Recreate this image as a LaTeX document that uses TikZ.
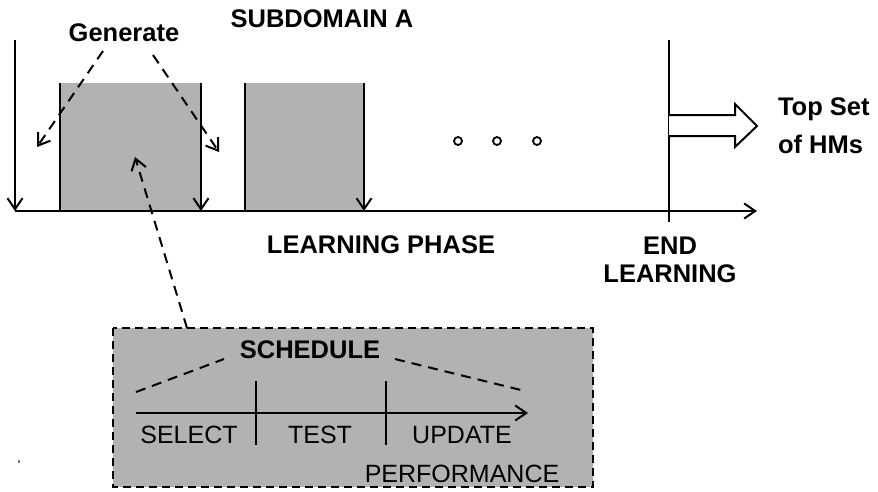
\documentclass[tikz,border=0pt]{standalone}
\usepackage{fontspec}
\setmainfont{Liberation Sans}
\usetikzlibrary{arrows.meta}
\definecolor{boxgray}{gray}{0.70}
\begin{document}
\begin{tikzpicture}[x=1pt,y=-1pt,
  every node/.style={inner sep=0pt,outer sep=0pt,font=\fontsize{25}{30}\selectfont},
  bold/.style={font=\fontsize{25.5}{30}\selectfont\bfseries},
  plain/.style={font=\fontsize{25}{30}\selectfont},
  line/.style={line width=2.3pt},
  arr/.style={line width=2.3pt,-{Straight Barb[length=11pt,width=15pt,line width=2pt]}},
  darr/.style={line width=2pt,dash pattern=on 10pt off 7pt,-{Straight Barb[length=11pt,width=15pt,line width=2pt]}},
  dline/.style={line width=2pt,dash pattern=on 10pt off 7pt},
  schedbox/.style={fill=boxgray,draw=black,line width=2.2pt,dash pattern=on 8pt off 5pt}]
\useasboundingbox (0,0) rectangle (878,491);

% grey sub-domain boxes
\fill[boxgray] (60,83) rectangle (201,211);
\fill[boxgray] (245,83) rectangle (364,211);

% coordinates
\coordinate (axisL) at (15,211);
\coordinate (axisR) at (757,211);
\coordinate (v0top) at (15,40);
\coordinate (b1l) at (60,83);   \coordinate (b1lb) at (60,211);
\coordinate (b1r) at (201,83);  \coordinate (b1rb) at (201,211);
\coordinate (b2l) at (245,83);  \coordinate (b2lb) at (245,211);
\coordinate (b2r) at (364,83);  \coordinate (b2rb) at (364,211);
\coordinate (endtop) at (669,40);
\coordinate (endbot) at (669,222);

% main axis and verticals
\draw[arr] (axisL) -- (axisR);
\draw[arr] (v0top) -- (axisL);
\draw[line] (b1l) -- (b1lb);
\draw[arr] (b1r) -- (b1rb);
\draw[line] (b2l) -- (b2lb);
\draw[arr] (b2r) -- (b2rb);
\draw[line] (endtop) -- (endbot);

% dots
\foreach \x/\n in {458/d1,497/d2,537/d3}
  \draw[line width=1.8pt] (\x,141) circle (4pt) coordinate (\n);

% hollow arrow
\draw[line width=2pt,fill=white,line join=miter]
  (669,115) -- (735,115) -- (735,104) -- (757,126) -- (735,147) -- (735,136) -- (669,136);

% labels
\node[bold,anchor=base] (sub) at (322,27) {SUBDOMAIN A};
\node[bold,anchor=base] (gen) at (124,41) {Generate};
\node[bold,anchor=base] (lp) at (381,253) {LEARNING PHASE};
\node[bold,anchor=base] (end) at (670,254) {END};
\node[bold,anchor=base] (endl) at (670,282) {LEARNING};
\node[bold,anchor=base west] (top) at (778,115) {Top Set};
\node[bold,anchor=base west] (hms) at (778,153) {of HMs};

% generate arrows
\coordinate (g1s) at (103,51);  \coordinate (g1e) at (37,147);
\coordinate (g2s) at (153,55);  \coordinate (g2e) at (219,152);
\draw[darr] (g1s) -- (g1e);
\draw[darr] (g2s) -- (g2e);

% schedule box
\draw[schedbox] (113,328) rectangle (593,487);
\node[minimum width=480pt,minimum height=159pt,anchor=north west] (sched) at (113,328) {};
\coordinate (schedtop) at (187,328);
\coordinate (schedtip) at (135,157);
\draw[darr] (schedtop) -- (schedtip);

\node[bold,anchor=base] (schedl) at (310,358) {SCHEDULE};
\coordinate (sdl1) at (136,392); \coordinate (sdl2) at (224,359);
\coordinate (sdr1) at (395,359); \coordinate (sdr2) at (525,391);
\draw[dline] (sdl1) -- (sdl2);
\draw[dline] (sdr1) -- (sdr2);

\coordinate (ia0) at (136,413); \coordinate (ia1) at (528,413);
\draw[line width=2.1pt,-{Straight Barb[length=11pt,width=15pt,line width=2pt]}] (ia0) -- (ia1);
\coordinate (t1a) at (256,381); \coordinate (t1b) at (256,445);
\coordinate (t2a) at (386,381); \coordinate (t2b) at (386,445);
\draw[line width=2.1pt] (t1a) -- (t1b);
\draw[line width=2.1pt] (t2a) -- (t2b);

\node[plain,anchor=base] (sel) at (189,443) {SELECT};
\node[plain,anchor=base] (tst) at (320,443) {TEST};
\node[plain,anchor=base] (upd) at (462,443) {UPDATE};
\node[plain,anchor=base] (perf) at (462,482) {PERFORMANCE};

% stray mark
\fill[gray] (18,460) rectangle (20,463);
\end{tikzpicture}
\end{document}
